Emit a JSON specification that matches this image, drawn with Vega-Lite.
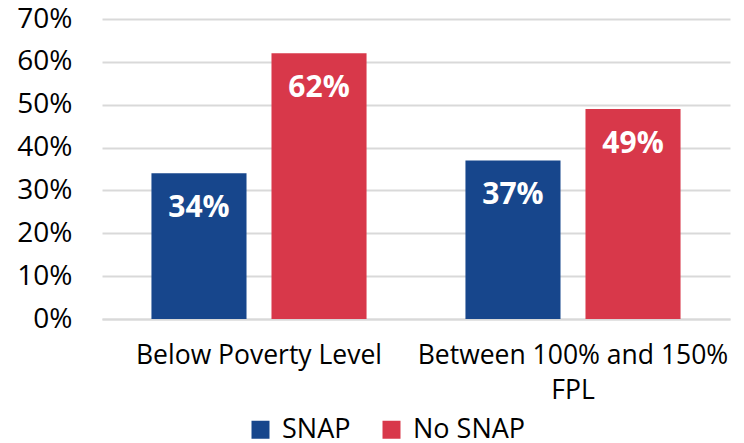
{
  "$schema": "https://vega.github.io/schema/vega-lite/v6.json",
  "autosize": {"type": "none"},
  "padding": {"left": 102, "top": 19, "right": 14, "bottom": 124},
  "width": 628,
  "height": 300,
  "background": "white",
  "config": {
    "font": "Open Sans",
    "view": {"stroke": null}
  },
  "data": {
    "values": [
      {"group": "Below Poverty Level", "program": "SNAP", "value": 0.34},
      {"group": "Below Poverty Level", "program": "No SNAP", "value": 0.62},
      {"group": "Between 100% and 150% FPL", "program": "SNAP", "value": 0.37},
      {"group": "Between 100% and 150% FPL", "program": "No SNAP", "value": 0.49}
    ]
  },
  "encoding": {
    "x": {
      "field": "group", "type": "nominal", "sort": null,
      "scale": {"paddingInner": 0, "paddingOuter": 0},
      "axis": {
        "title": null, "labelAngle": 0, "ticks": false,
        "domainColor": "#d9d9d9", "domainWidth": 2,
        "labelFontSize": 26.5, "labelColor": "#000000", "labelPadding": 23,
        "labelLineHeight": 35, "labelLimit": 0, "labelOverlap": false,
        "labelExpr": "datum.label == 'Between 100% and 150% FPL' ? ['Between 100% and 150%', 'FPL'] : datum.label"
      }
    },
    "xOffset": {
      "field": "program", "type": "nominal", "sort": ["SNAP", "No SNAP"],
      "scale": {"paddingInner": 0.208, "paddingOuter": 0.412}
    },
    "y": {
      "field": "value", "type": "quantitative",
      "scale": {"domain": [0, 0.7]},
      "axis": {
        "title": null, "format": ".0%", "values": [0, 0.1, 0.2, 0.3, 0.4, 0.5, 0.6, 0.7],
        "domain": false, "ticks": false, "grid": true,
        "gridColor": "#d9d9d9", "gridWidth": 2,
        "labelOverlap": false, "labelLimit": 0,
        "labelFontSize": 28, "labelColor": "#000000", "labelPadding": 30
      }
    }
  },
  "layer": [
    {
      "mark": {"type": "bar"},
      "encoding": {
        "color": {
          "field": "program", "type": "nominal",
          "sort": ["SNAP", "No SNAP"],
          "scale": {"domain": ["SNAP", "No SNAP"], "range": ["#17468c", "#d8384a"]},
          "legend": {
            "title": null, "orient": "none", "direction": "horizontal",
            "legendX": 145, "legendY": 397,
            "symbolType": "square", "symbolSize": 324, "symbolStrokeWidth": 0,
            "labelFontSize": 27, "labelColor": "#000000", "labelOffset": 8,
            "columnPadding": 27
          }
        }
      }
    },
    {
      "mark": {"type": "text", "color": "white", "fontWeight": "bold", "fontSize": 30, "baseline": "middle", "dy": 35},
      "encoding": {
        "text": {"field": "value", "type": "quantitative", "format": ".0%"}
      }
    }
  ]
}
